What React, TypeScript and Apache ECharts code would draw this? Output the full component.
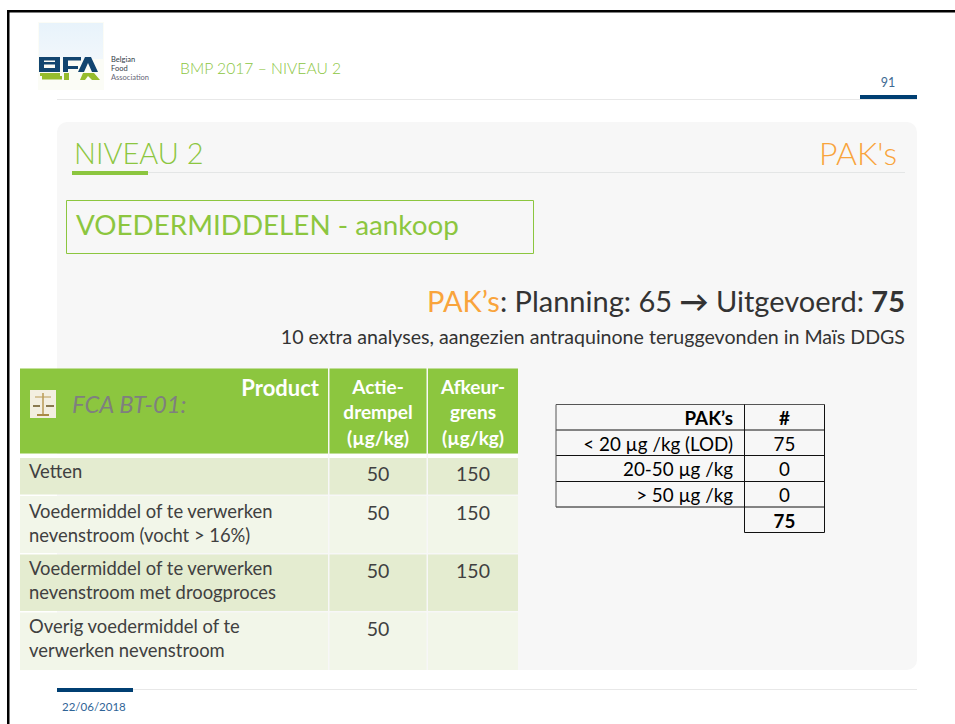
import React, { useEffect, useRef } from "react";
import * as echarts from "echarts";

const headerTitle = "BMP 2017 – NIVEAU 2";
const pageNumber = "91";
const footerDate = "22/06/2018";
const sectionTitle = "NIVEAU 2";
const sectionTopic = "PAK's";
const boxTitle = "VOEDERMIDDELEN - aankoop";
const extraNote = "10 extra analyses, aangezien antraquinone teruggevonden in Maïs DDGS";
const planned = 65;
const executed = 75;
const logoWords = ["Belgian", "Food", "Association"];
const fcaLabel = "FCA BT-01:";
const leftHeaders = ["Product", ["Actie-", "drempel", "(µg/kg)"], ["Afkeur-", "grens", "(µg/kg)"]];
const products = [
  ["Vetten"],
  ["Voedermiddel of te verwerken", "nevenstroom (vocht > 16%)"],
  ["Voedermiddel of te verwerken", "nevenstroom met droogproces"],
  ["Overig voedermiddel of te", "verwerken nevenstroom"],
];
const actionLimits = ["50", "50", "50", "50"];
const rejectLimits = ["150", "150", "150", ""];
const pakLabels = ["PAK’s", "< 20 µg /kg (LOD)", "20-50 µg /kg", "> 50 µg /kg"];
const pakCounts = ["#", "75", "0", "0", "75"];

const GREEN = "#8cc63f";
const ORANGE = "#f9a43c";
const NAVY = "#003f72";
const INK = "#404040";
const FONT = "Lato";

function rect(x: number, y: number, w: number, h: number, fill: string, r = 0): any {
  return { type: "rect", shape: { x, y, width: w, height: h, r }, style: { fill } };
}
function line(x1: number, y1: number, x2: number, y2: number, stroke: string, lineWidth = 1): any {
  return { type: "line", shape: { x1, y1, x2, y2 }, style: { stroke, lineWidth } };
}
function text(
  s: string, x: number, y: number, size: number, fill: string,
  align = "left", extra: any = {}
): any {
  return {
    type: "text", x, y,
    style: { text: s, fontFamily: FONT, fontSize: size, fill, align, verticalAlign: "middle", ...extra },
  };
}
function poly(points: number[][], fill: string): any {
  return { type: "polygon", shape: { points }, style: { fill } };
}

function slide(): any[] {
  const e: any[] = [];
  // page frame
  e.push(rect(0, 0, 955, 724, "#ffffff"));
  e.push(rect(7, 10, 948, 2.5, "#000000"));
  e.push(rect(7, 10, 2.5, 714, "#000000"));

  // logo
  e.push(rect(38, 22, 66, 68, "#fbfcf6"));
  e.push({
    type: "rect", shape: { x: 39, y: 23, width: 64, height: 36 },
    style: { fill: new echarts.graphic.LinearGradient(0, 0, 0, 1, [
      { offset: 0, color: "#e8f3fb" }, { offset: 1, color: "#f1f7fb" },
    ]) },
  });
  const blue = "#12456f";
  e.push(rect(39, 57, 20, 3.5, blue), rect(39, 68, 21, 4, blue), rect(39, 57, 5, 15, blue), rect(55, 57, 5, 15, blue), rect(44, 62, 11, 2.5, blue));
  e.push(rect(63, 57, 18, 3.5, blue), rect(63, 66, 15, 3, blue), rect(63, 60, 5, 12, blue));
  e.push(poly([[85, 57], [91, 57], [98, 72], [92, 72], [88, 63], [84, 72], [78, 72]], blue));
  const lime = "#96bc2d";
  e.push(rect(40, 73, 20, 3, lime), rect(42, 76, 20, 3.5, lime), rect(64, 73, 5, 7, lime));
  e.push(poly([[80, 80], [83, 73], [94, 73], [100, 80], [92, 80], [88, 76], [85, 80]], lime));
  logoWords.forEach((w, i) =>
    e.push(text(w, 111, 59 + i * 9.2, 7.5, i === 2 ? "#667" : "#333d48"))
  );

  // header
  e.push(text(headerTitle, 180, 68, 15.7, GREEN, "left", { fontWeight: 300 }));
  e.push(text(pageNumber, 888, 82, 12.5, "#3d6a93", "center"));
  e.push(line(57, 99.5, 917, 99.5, "#e8e8e8"));
  e.push(rect(860, 95, 57, 4, NAVY));

  // panel
  e.push(rect(57, 122, 860, 548, "#f7f7f7", 10));
  e.push(text(sectionTitle, 74, 152, 29, GREEN, "left", { fontWeight: 300 }));
  e.push(text(sectionTopic, 897, 152, 32, ORANGE, "right", { fontWeight: 300 }));
  e.push(line(72, 172.5, 905, 172.5, "#e4e6e6"));
  e.push(rect(72, 171, 76, 4, GREEN));

  e.push({
    type: "rect", shape: { x: 66.5, y: 200.5, width: 467, height: 53 },
    style: { fill: "none", stroke: GREEN, lineWidth: 1 },
  });
  e.push(text(boxTitle, 76, 224.5, 27.8, GREEN));

  // headline
  e.push({
    type: "text", x: 905, y: 300,
    style: {
      text: `{o|PAK’s}{d|: Planning: ${planned} }{a|→}{d| Uitgevoerd: }{b|${executed}}`,
      align: "right", verticalAlign: "middle",
      rich: {
        o: { fontFamily: FONT, fontSize: 29, fill: ORANGE },
        d: { fontFamily: FONT, fontSize: 29, fill: "#333333" },
        a: { fontFamily: FONT, fontSize: 29, fill: "#333333", fontWeight: "bold" },
        b: { fontFamily: FONT, fontSize: 29, fill: "#333333", fontWeight: "bold" },
      },
    },
  });
  e.push(text(extraNote, 905, 336.5, 19.6, "#333333", "right"));

  // left table
  const colX = [20, 329.5, 428];
  const colW = [308, 97, 90];
  const headTop = 368.5, headH = 85;
  colX.forEach((x, i) => e.push(rect(x, headTop, colW[i], headH, GREEN)));
  colX.forEach((x, i) => e.push(rect(x, 454, colW[i], 4, "#ffffff")));
  const rowTop = [458, 496, 554.5, 612.5];
  const rowH = [36.5, 57, 56.5, 57.5];
  const rowFill = ["#e4ecd0", "#f2f6e9", "#e4ecd0", "#f2f6e9"];
  rowTop.forEach((y, r) =>
    colX.forEach((x, i) => e.push(rect(x, y, colW[i], rowH[r], rowFill[r])))
  );
  // icon
  e.push(rect(30, 390, 26, 28, "#f3efe0"));
  e.push(line(43, 393, 43, 414, "#b99a55", 1.5), line(35, 397, 51, 397, "#b99a55", 1));
  e.push(line(33, 406, 40, 406, "#8a7a50", 2), line(46, 406, 54, 406, "#8a7a50", 2), line(37, 415, 49, 415, "#a98a45", 2));

  e.push(text(fcaLabel, 72, 404, 23.8, "#7f7f7f", "left", { fontStyle: "italic" }));
  const white = { fontWeight: "bold" };
  e.push(text(leftHeaders[0] as string, 319, 387, 22, "#ffffff", "right", white));
  const headCenter = [378, 473];
  [leftHeaders[1], leftHeaders[2]].forEach((ls, c) =>
    (ls as string[]).forEach((l, i) =>
      e.push(text(l, headCenter[c], 386 + i * 25.5, 19, "#ffffff", "center", white))
    )
  );
  const firstLine = [471, 510.5, 568, 626];
  products.forEach((ls, r) => {
    ls.forEach((l, i) => e.push(text(l, 29, firstLine[r] + i * 24, 18.4, INK)));
    e.push(text(actionLimits[r], headCenter[0], firstLine[r] + 2, 19.5, INK, "center"));
    if (rejectLimits[r]) e.push(text(rejectLimits[r], headCenter[1], firstLine[r] + 2, 19.5, INK, "center"));
  });

  // right table
  const X = [556, 744.5, 824.5];
  const Y = [404.5, 430, 455.5, 481.5, 507, 532.5];
  const B = "#111111";
  for (let i = 0; i < 5; i++) e.push(line(X[0], Y[i], X[2], Y[i], i === 0 ? "#555555" : B));
  e.push(line(X[1], Y[5], X[2], Y[5], B));
  e.push(line(X[0], Y[0], X[0], Y[4], "#555555"));
  e.push(line(X[1], Y[0], X[1], Y[5], B));
  e.push(line(X[2], Y[0], X[2], Y[5], B));
  pakLabels.forEach((l, i) =>
    e.push(text(l, 733, Y[i] + 13, 18.8, "#000000", "right", i === 0 ? white : {}))
  );
  pakCounts.forEach((l, i) =>
    e.push(text(l, 784.5, Y[i] + 13, 18.8, "#000000", "center", i === 0 || i === 4 ? white : {}))
  );

  // footer
  e.push(line(57, 689.5, 917, 689.5, "#e8e8e8"));
  e.push(rect(57, 688, 76, 4, NAVY));
  e.push(text(footerDate, 62, 706, 11.5, "#2f6496", "left"));
  return e;
}

export default function App() {
  const ref = useRef<HTMLDivElement>(null);
  useEffect(() => {
    document.body.style.margin = "0";
    document.body.style.overflow = "hidden";
    const chart = echarts.init(ref.current!, undefined, { renderer: "svg" });
    chart.setOption({ animation: false, graphic: { elements: slide() } });
    return () => chart.dispose();
  }, []);
  return <div ref={ref} style={{ width: 955, height: 724 }} />;
}
